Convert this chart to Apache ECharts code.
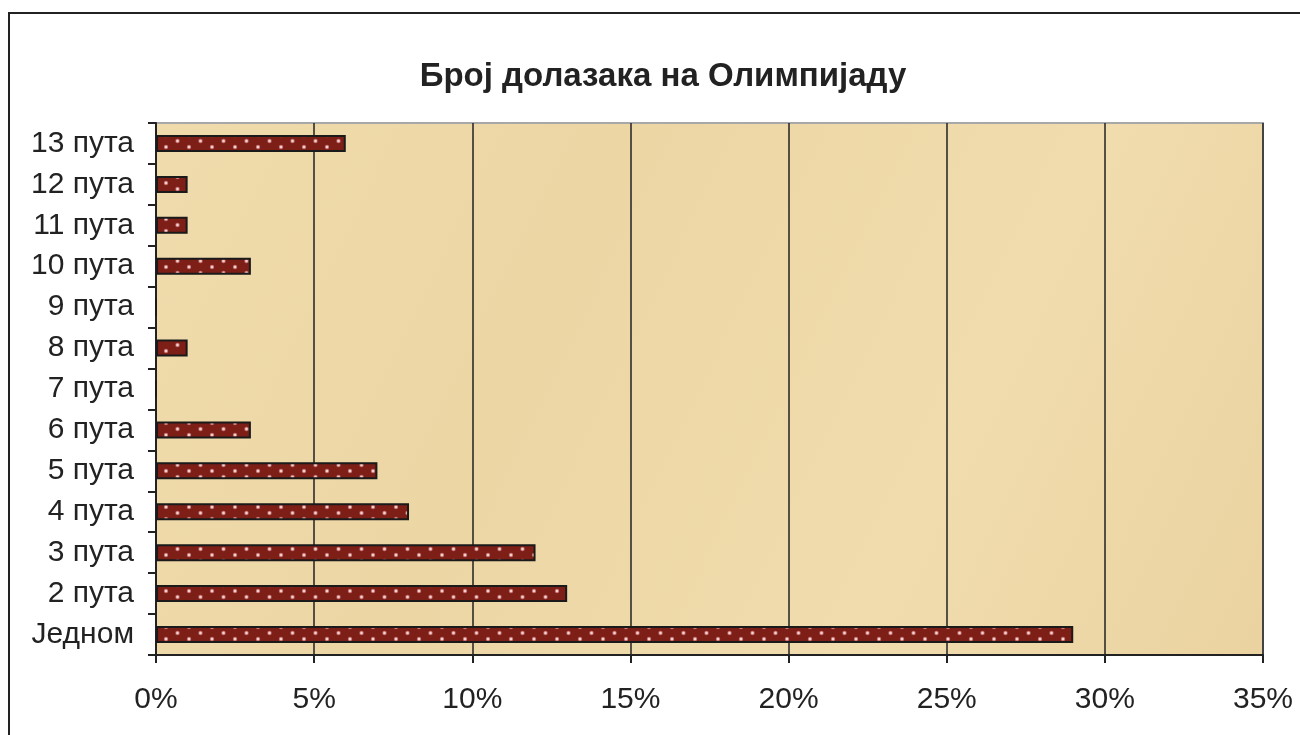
<!DOCTYPE html>
<html>
<head>
<meta charset="utf-8">
<script src="https://cdn.jsdelivr.net/npm/echarts@6/dist/echarts.min.js"></script>
<style>
html,body{margin:0;padding:0;background:#fff;}
#chart{width:1300px;height:735px;}
</style>
</head>
<body>
<div id="chart"></div>
<script>
var titleText = 'Број долазака на Олимпијаду';
var categories = ['Једном','2 пута','3 пута','4 пута','5 пута','6 пута','7 пута','8 пута','9 пута','10 пута','11 пута','12 пута','13 пута'];
var values = [29, 13, 12, 8, 7, 3, 0, 1, 0, 3, 1, 1, 6];
var xTicks = [0, 5, 10, 15, 20, 25, 30, 35];

// dotted bar fill pattern
var pat = document.createElement('canvas');
pat.width = 23; pat.height = 12;
var pc = pat.getContext('2d');
pc.fillStyle = '#7e1f17';
pc.fillRect(0, 0, 23, 12);
function dot(x, y){
  pc.fillStyle = '#c07070';
  pc.beginPath(); pc.arc(x, y, 2.2, 0, Math.PI*2); pc.fill();
  pc.fillStyle = '#f6d0d0';
  pc.beginPath(); pc.arc(x, y, 1.3, 0, Math.PI*2); pc.fill();
}
dot(5, 3); dot(16.5, 9);

var chart = echarts.init(document.getElementById('chart'), null, {renderer:'canvas'});
chart.setOption({
  animation: false,
  backgroundColor: '#ffffff',
  title: {
    text: titleText, left: 658, top: 55, textAlign: 'center',
    textStyle: {fontFamily: 'Liberation Sans, Arial', fontSize: 33, fontWeight: 'bold', color: '#222'}
  },
  graphic: [{
    type: 'rect', z: -10, silent: true,
    shape: {x: 9, y: 13, width: 1400, height: 900},
    style: {fill: 'none', stroke: '#222', lineWidth: 2}
  }],
  grid: {
    left: 156, top: 123, right: 37, bottom: 80, show: true,
    backgroundColor: new echarts.graphic.LinearGradient(0, 0, 1, 1, [
      {offset: 0, color: '#f0dbac'},
      {offset: 0.35, color: '#ecd6a4'},
      {offset: 0.7, color: '#f1dcae'},
      {offset: 1, color: '#ead3a0'}
    ]),
    borderColor: '#a8a8a8', borderWidth: 2
  },
  xAxis: {
    type: 'value', min: 0, max: 35, interval: 5,
    axisLine: {show: true, lineStyle: {color: '#222', width: 2}},
    axisTick: {show: true, length: 8, lineStyle: {color: '#222', width: 2}},
    splitLine: {show: true, lineStyle: {color: '#222', width: 1.5}},
    axisLabel: {
      formatter: function(v){ return v + '%'; },
      fontFamily: 'Liberation Sans, Arial', fontSize: 30, color: '#222', margin: 30
    }
  },
  yAxis: {
    type: 'category', data: categories,
    axisLine: {show: true, lineStyle: {color: '#222', width: 2}},
    axisTick: {show: true, length: 8, lineStyle: {color: '#222', width: 2}},
    splitLine: {show: false},
    axisLabel: {fontFamily: 'Liberation Sans, Arial', fontSize: 30, color: '#222', margin: 22}
  },
  series: [{
    type: 'bar', data: values, barWidth: 17,
    itemStyle: {
      color: {image: pat, repeat: 'repeat'},
      borderColor: '#1a1a1a', borderWidth: 2
    }
  }]
});
</script>
</body>
</html>
